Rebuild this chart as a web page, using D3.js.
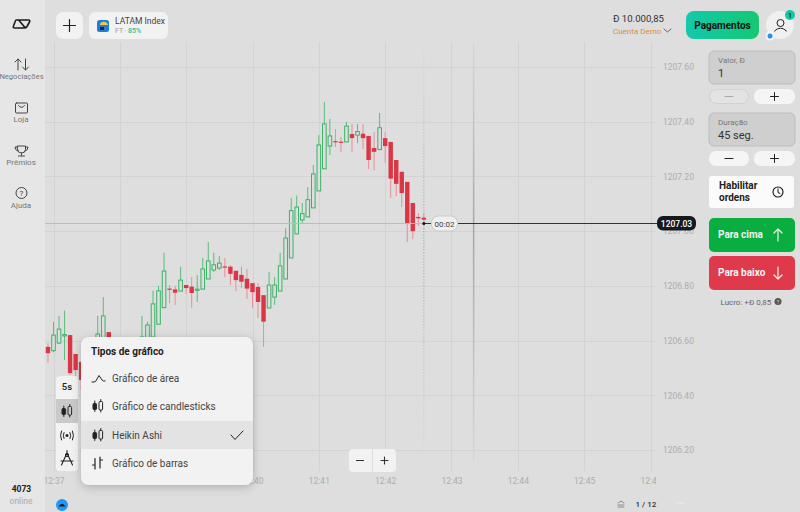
<!DOCTYPE html>
<html>
<head>
<meta charset="utf-8">
<script src="https://cdn.jsdelivr.net/npm/d3@7"></script>
<style>
    html, body { margin: 0; padding: 0; background: #dedede; overflow: hidden; }
    svg { display: block; font-family: Roboto, sans-serif; }
</style>
</head>
<body>
<svg id="chart" width="800" height="512"></svg>
<script>
// 5 second candles, first one closes out 12:36:55
const firstCandle = new Date(2024, 0, 1, 12, 36, 55);
const candleSeconds = 5;

const candleOpen = [1206.577,1206.563,1206.591,1206.617,1206.620,1206.551,1206.522,1206.485,1206.456,1206.547,
    1206.584,1206.631,1206.595,1206.529,1206.547,1206.580,1206.536,1206.558,1206.584,1206.613,
    1206.660,1206.720,1206.790,1206.787,1206.781,1206.803,1206.797,1206.785,1206.788,1206.825,
    1206.858,1206.865,1206.871,1206.870,1206.855,1206.840,1206.826,1206.810,1206.796,1206.766,
    1206.719,1206.759,1206.781,1206.825,1206.902,1206.990,1207.041,1207.052,1207.085,1207.147,
    1207.228,1207.311,1207.329,1207.327,1207.326,1207.355,1207.351,1207.356,1207.348,1207.304,
    1207.298,1207.340,1207.326,1207.260,1207.217,1207.180,1207.103,1207.052,1207.049];
const candleClose = [1206.554,1206.620,1206.642,1206.622,1206.481,1206.492,1206.456,1206.441,1206.536,1206.624,
    1206.690,1206.595,1206.558,1206.565,1206.584,1206.543,1206.587,1206.613,1206.657,1206.734,
    1206.782,1206.854,1206.787,1206.775,1206.821,1206.792,1206.774,1206.788,1206.862,1206.891,
    1206.877,1206.883,1206.868,1206.844,1206.821,1206.815,1206.790,1206.777,1206.741,1206.669,
    1206.803,1206.803,1206.873,1206.975,1207.075,1207.088,1207.064,1207.115,1207.209,1207.315,
    1207.392,1207.348,1207.326,1207.325,1207.384,1207.340,1207.364,1207.340,1207.260,1207.290,
    1207.378,1207.311,1207.192,1207.173,1207.139,1207.026,1207.000,1207.047,1207.042];
const candleHigh = [1206.591,1206.669,1206.690,1206.709,1206.620,1206.551,1206.525,1206.492,1206.584,1206.690,
    1206.759,1206.631,1206.606,1206.587,1206.602,1206.595,1206.602,1206.690,1206.669,1206.782,
    1206.800,1206.921,1206.803,1206.800,1206.870,1206.803,1206.832,1206.840,1206.902,1206.960,
    1206.921,1206.909,1206.902,1206.876,1206.855,1206.870,1206.862,1206.810,1206.810,1206.766,
    1206.851,1206.832,1206.921,1207.011,1207.121,1207.130,1207.103,1207.161,1207.242,1207.351,
    1207.472,1207.410,1207.373,1207.344,1207.399,1207.392,1207.392,1207.392,1207.348,1207.362,
    1207.432,1207.362,1207.326,1207.260,1207.217,1207.180,1207.103,1207.066,1207.066];
const candleLow = [1206.519,1206.558,1206.587,1206.529,1206.474,1206.470,1206.419,1206.412,1206.437,1206.529,
    1206.565,1206.565,1206.529,1206.511,1206.536,1206.522,1206.522,1206.547,1206.580,1206.602,
    1206.657,1206.719,1206.737,1206.730,1206.781,1206.770,1206.720,1206.741,1206.788,1206.825,
    1206.851,1206.858,1206.832,1206.803,1206.781,1206.792,1206.752,1206.720,1206.682,1206.577,
    1206.719,1206.730,1206.781,1206.825,1206.902,1206.990,1207.030,1207.052,1207.085,1207.147,
    1207.228,1207.278,1207.308,1207.289,1207.326,1207.289,1207.322,1207.300,1207.227,1207.221,
    1207.298,1207.250,1207.121,1207.128,1207.089,1206.960,1206.971,1207.019,1207.030];

const priceTicks = [1206.20,1206.40,1206.60,1206.80,1207.00,1207.20,1207.40,1207.60];
const timeTicks = [37,38,39,40,41,42,43,44,45,46].map(m => new Date(2024, 0, 1, 12, m, 0));
const currentPrice = 1207.03;
const currentTime = new Date(2024, 0, 1, 12, 42, 35);
const expiryTime = new Date(2024, 0, 1, 12, 42, 35 + 45);
const chartTypes = ["Gráfico de área", "Gráfico de candlesticks", "Heikin Ashi", "Gráfico de barras"];

const candles = candleOpen.map((o, i) => ({
    t: new Date(+firstCandle + i * candleSeconds * 1000),
    o: o, c: candleClose[i], h: candleHigh[i], l: candleLow[i]
}));

const svg = d3.select("#chart");
const x = d3.scaleTime().domain([timeTicks[0], timeTicks[9]]).range([53.5, 650.5]);
const y = d3.scaleLinear().domain([1206.2, 1207.6]).range([450, 67]);

const green = "#3ab366", red = "#dc3545";

svg.append("rect").attr("width", 800).attr("height", 512).attr("fill", "#dedede");

const defs = svg.append("defs");
defs.append("clipPath").attr("id", "plotClip").append("rect")
    .attr("x", 45).attr("y", 0).attr("width", 611).attr("height", 512);
const payGrad = defs.append("linearGradient").attr("id", "payGrad");
payGrad.append("stop").attr("offset", "0%").attr("stop-color", "#13c9ab");
payGrad.append("stop").attr("offset", "100%").attr("stop-color", "#14c873");
const fadeGrad = defs.append("linearGradient").attr("id", "fadeGrad")
    .attr("gradientUnits", "userSpaceOnUse").attr("x1", 0).attr("x2", 0).attr("y1", 42).attr("y2", 462);
fadeGrad.append("stop").attr("offset", "0%").attr("stop-color", "#d8d8d8");
fadeGrad.append("stop").attr("offset", "45%").attr("stop-color", "#a6a6a6");
fadeGrad.append("stop").attr("offset", "100%").attr("stop-color", "#d8d8d8");
const blur = defs.append("filter").attr("id", "shadow")
    .attr("x", "-20%").attr("y", "-20%").attr("width", "140%").attr("height", "140%");
blur.append("feDropShadow").attr("dx", 0).attr("dy", 2).attr("stdDeviation", 5)
    .attr("flood-color", "#000").attr("flood-opacity", 0.22);

// grid
const grid = svg.append("g").attr("stroke", "#d3d3d3").attr("stroke-width", 1);
grid.selectAll(".h").data(priceTicks).join("line")
    .attr("x1", 45).attr("x2", 655)
    .attr("y1", d => Math.round(y(d)) + 0.5).attr("y2", d => Math.round(y(d)) + 0.5);
grid.selectAll(".v").data(timeTicks).join("line")
    .attr("x1", d => Math.round(x(d)) + 0.5).attr("x2", d => Math.round(x(d)) + 0.5)
    .attr("y1", 42).attr("y2", 471);

// axes
const yAxis = svg.append("g").attr("transform", "translate(655,0)")
    .call(d3.axisRight(y).tickValues(priceTicks).tickSize(0).tickPadding(8).tickFormat(d3.format(".2f")));
yAxis.select(".domain").remove();
yAxis.selectAll("text").attr("fill", "#adadad").attr("font-size", 8.5).attr("font-family", "Roboto");

const xAxis = svg.append("g").attr("transform", "translate(0,476)").attr("clip-path", "url(#plotClip)")
    .call(d3.axisBottom(x).tickValues(timeTicks).tickSize(0).tickPadding(2).tickFormat(d3.timeFormat("%H:%M")));
xAxis.select(".domain").remove();
xAxis.selectAll("text").attr("fill", "#adadad").attr("font-size", 8.5).attr("font-family", "Roboto");

// now / expiry markers
svg.append("line").attr("x1", x(currentTime) + 0.01).attr("x2", x(currentTime)).attr("y1", 42).attr("y2", 462)
    .attr("stroke", "url(#fadeGrad)").attr("stroke-dasharray", "1.5,1.5");
svg.append("line").attr("x1", x(expiryTime) + 0.01).attr("x2", x(expiryTime)).attr("y1", 42).attr("y2", 462)
    .attr("stroke", "url(#fadeGrad)").attr("stroke-width", 1.5);

// candles
const candleG = svg.append("g");
candleG.selectAll(".wick").data(candles).join("line")
    .attr("x1", d => x(d.t)).attr("x2", d => x(d.t))
    .attr("y1", d => y(d.h)).attr("y2", d => y(d.l))
    .attr("stroke", d => d.c >= d.o ? "#5cbc7d" : "#e58f98").attr("stroke-width", 1);
candleG.selectAll(".body").data(candles).join("rect")
    .attr("x", d => x(d.t) - (d.c >= d.o ? 1.8 : 2.2))
    .attr("width", d => d.c >= d.o ? 3.6 : 4.4)
    .attr("y", d => y(Math.max(d.o, d.c)))
    .attr("height", d => Math.max(1.2, Math.abs(y(d.o) - y(d.c))))
    .attr("fill", d => d.c >= d.o ? "#dedede" : red)
    .attr("stroke", d => d.c >= d.o ? green : "none")
    .attr("stroke-width", 1);

// current price line
const py = Math.round(y(currentPrice)) + 0.5;
svg.append("line").attr("x1", 45).attr("x2", x(currentTime)).attr("y1", py).attr("y2", py)
    .attr("stroke", "#bcbcbc");
svg.append("line").attr("x1", x(currentTime)).attr("x2", 660).attr("y1", py).attr("y2", py)
    .attr("stroke", "#333");
svg.append("circle").attr("cx", x(currentTime)).attr("cy", py).attr("r", 1.5).attr("fill", "#111");
svg.append("rect").attr("x", 431.5).attr("y", 216).attr("width", 26).attr("height", 15).attr("rx", 7)
    .attr("fill", "#f0f0f0").attr("stroke", "#ccc");
label(444.5, 226.5, "00:02", 8, "#444").attr("text-anchor", "middle");
svg.append("rect").attr("x", 657).attr("y", 216).attr("width", 39).attr("height", 14.5).attr("rx", 6).attr("fill", "#16191c");
label(676.5, 226.5, currentPrice.toFixed(2), 8.5, "#fff", 500).attr("text-anchor", "middle");

function label(px, py, txt, size, color, weight) {
    return svg.append("text").attr("x", px).attr("y", py).text(txt)
        .attr("font-size", size).attr("fill", color).attr("font-weight", weight || 400);
}
function box(px, py, w, h, r, fill, stroke) {
    return svg.append("rect").attr("x", px).attr("y", py).attr("width", w).attr("height", h).attr("rx", r)
        .attr("fill", fill).attr("stroke", stroke || "none");
}
function icon(d, color, width) {
    return svg.append("path").attr("d", d).attr("fill", "none")
        .attr("stroke", color || "#333").attr("stroke-width", width || 1)
        .attr("stroke-linecap", "round").attr("stroke-linejoin", "round");
}
function candleIcon(cx, cy, fill) {
    icon(`M${cx-3.2} ${cy-5}V${cy+5.5}M${cx+2.8} ${cy-6.5}V${cy+6}`, "#222", 1);
    box(cx - 5, cy - 2.5, 3.6, 6, 1, "#222", "#222");
    box(cx + 1, cy - 4.5, 3.6, 8.5, 1, fill, "#222");
}

// left sidebar
box(0, 0, 45, 512, 0, "#e6e6e6");
icon("M16 20H28.5Q30.5 20 29.5 22L27 26.5Q26 28 24 28H15Q12.5 28 13.5 26L15 22Q15.5 20 16 20ZM19 20.5L25 27.5", "#1a1a1a", 1.6);
icon("M18 70V59M15 62L18 59L21 62M25.5 59V70M22.5 67L25.5 70L28.5 67", "#444", 1);
label(21.5, 79, "Negociações", 7.6, "#777").attr("text-anchor", "middle");
icon("M16.5 103H26.5Q27.5 103 27.5 104V112Q27.5 113 26.5 113H16.5Q15.5 113 15.5 112V104Q15.5 103 16.5 103ZM18.5 105.5Q21.5 109.5 24.5 105.5", "#444", 1);
label(21, 122, "Loja", 8, "#777").attr("text-anchor", "middle");
icon("M17.5 146H25.5V149.5Q25.5 153 21.5 153Q17.5 153 17.5 149.5ZM17.5 147H15Q15 150.5 18 151M25.5 147H28Q28 150.5 25 151M21.5 153V155.5M18.5 156H24.5", "#444", 1);
label(21, 165, "Prêmios", 8, "#777").attr("text-anchor", "middle");
svg.append("circle").attr("cx", 21.5).attr("cy", 193).attr("r", 5.5).attr("fill", "none").attr("stroke", "#444");
label(21.5, 196, "?", 8, "#444").attr("text-anchor", "middle");
label(21, 208, "Ajuda", 8, "#777").attr("text-anchor", "middle");
label(21.5, 492, "4073", 8.5, "#222", 700).attr("text-anchor", "middle");
label(21, 504, "online", 8.5, "#aaa").attr("text-anchor", "middle");

// top left tiles
box(56, 12, 27, 27, 7, "#f2f2f2");
icon("M69.5 19.5V31.5M63.5 25.5H75.5", "#222", 1.2);
box(89, 12, 79, 27, 6, "#f2f2f2");
box(97, 20, 12, 12, 2.5, "#1c7fd8");
svg.append("path").attr("d", "M100 25C100 22 103 21 105 22C107 22.5 108 24 108 25Z").attr("fill", "#f2c84b");
svg.append("rect").attr("x", 100).attr("y", 27).attr("width", 4).attr("height", 3).attr("fill", "#123");
label(115, 23.5, "LATAM Index", 8.5, "#444");
label(115, 32.5, "FT ·", 7, "#999");
label(128, 32.5, "85%", 7, "#2dbd8f", 500);

// balance
label(613, 22, "Ð 10.000,85", 9.6, "#333");
label(613, 34, "Cuenta Demo", 8, "#e08a3a");
icon("M664 29L667.5 32L671 29", "#555", 0.9);
box(686, 11, 73, 28, 8, "url(#payGrad)");
label(722.5, 28.5, "Pagamentos", 10, "#111", 700).attr("text-anchor", "middle");
svg.append("circle").attr("cx", 780).attr("cy", 25).attr("r", 14).attr("fill", "#f0f0f0");
svg.append("circle").attr("cx", 780.5).attr("cy", 23).attr("r", 3.5).attr("fill", "none").attr("stroke", "#222");
icon("M774.5 31Q780.5 25 786.5 31", "#222", 1);
svg.append("circle").attr("cx", 790).attr("cy", 15).attr("r", 5).attr("fill", "#14c9a0");
label(790, 17.5, "1", 7, "#123", 500).attr("text-anchor", "middle");
svg.append("circle").attr("cx", 770).attr("cy", 36).attr("r", 4.5).attr("fill", "#f4f4f4");
svg.append("circle").attr("cx", 770).attr("cy", 36).attr("r", 2.5).attr("fill", "#2a90e0");

// right panel
box(709, 51, 86, 33, 5, "#cfcfcf", "#bdbdbd");
label(718, 63, "Valor, Ð", 8, "#777");
label(718, 77, "1", 11, "#333");
box(709.5, 89.5, 39, 14, 7, "#e3e3e3", "#d2d2d2");
icon("M725 96.5H733", "#aaa", 1);
box(754, 89, 41, 15, 7, "#f5f5f5");
icon("M770.5 96.5H778.5M774.5 92.5V100.5", "#222", 1);
box(709, 113, 86, 33, 5, "#cfcfcf", "#bdbdbd");
label(718, 125, "Duração", 8, "#777");
label(718, 139, "45 seg.", 11, "#333");
box(709, 151, 40, 15, 7, "#f5f5f5");
icon("M725 158.5H733", "#222", 1);
box(754, 151, 41, 15, 7, "#f5f5f5");
icon("M770.5 158.5H778.5M774.5 154.5V162.5", "#222", 1);
box(709, 176, 85, 32, 3, "#fbfbfb");
label(719, 189, "Habilitar", 10, "#222", 700);
label(719, 201, "ordens", 10, "#222", 700);
svg.append("circle").attr("cx", 778).attr("cy", 192).attr("r", 5).attr("fill", "none").attr("stroke", "#111").attr("stroke-width", 1.1);
icon("M778 189V192.5L780 193.5", "#111", 1);
box(709, 218, 86, 34, 5, "#0aad3f");
label(718, 238, "Para cima", 10, "#f4f4f4", 700);
icon("M778 241V229M774 233L778 229L782 233", "#e8f5ec", 1.2);
box(709, 256, 86, 34, 5, "#df3a4b");
label(718, 276, "Para baixo", 10, "#f4f4f4", 700);
icon("M778 267V279M774 275L778 279L782 275", "#f8e8ea", 1.2);
label(720.5, 304.5, "Lucro: +Ð 0,85", 8, "#666");
svg.append("circle").attr("cx", 778).attr("cy", 301.5).attr("r", 3.5).attr("fill", "#555");
label(778, 304, "?", 6, "#ddd").attr("text-anchor", "middle");

// zoom buttons
box(349, 449, 47, 23, 4, "#f2f2f2");
icon("M372.5 449V472", "#dcdcdc", 1);
icon("M356.5 460.5H363.5", "#333", 1.1);
icon("M381 460.5H388M384.5 457V464", "#333", 1.1);

// chart tool column
box(56, 376, 22, 95, 4, "#f2f2f2");
box(56, 399, 22, 24, 0, "#c9c9c9");
label(67, 389.5, "5s", 9.5, "#222", 500).attr("text-anchor", "middle");
candleIcon(67, 411, "#c9c9c9");
svg.append("circle").attr("cx", 67).attr("cy", 435.5).attr("r", 1.5).attr("fill", "#222");
icon("M64 432.5Q62.5 435.5 64 438.5M61.5 431Q59.5 435.5 61.5 440M70 432.5Q71.5 435.5 70 438.5M72.5 431Q74.5 435.5 72.5 440", "#222", 1);
icon("M67 453L61.5 465M67 453L72.5 465M61 461H73M67 450.5V453", "#222", 1.1);
svg.append("circle").attr("cx", 67).attr("cy", 455).attr("r", 1.6).attr("fill", "none").attr("stroke", "#222");

// chart type popup
box(81, 337, 172, 148, 8, "#f2f2f2").attr("filter", "url(#shadow)");
svg.append("rect").attr("x", 81).attr("y", 421).attr("width", 172).attr("height", 28).attr("fill", "#e3e3e3");
label(91, 355, "Tipos de gráfico", 10, "#222", 700);
svg.selectAll(".typeLabel").data(chartTypes).join("text")
    .attr("x", 112).attr("y", (d, i) => [381.5, 410, 438.5, 467][i])
    .attr("font-size", 10).attr("fill", "#444").text(d => d);
icon("M92 382H94Q96 382 97 379L99 375.5L102 380Q103 381.5 105 381", "#222", 1);
candleIcon(98, 406, "#f2f2f2");
candleIcon(98, 435, "#e3e3e3");
icon("M95 458.5V469M95 465H92.5M100 457V468M100 460H102.5", "#222", 1.2);
icon("M231 435L235 439.5L243 431", "#222", 1);

// footer bits
svg.append("circle").attr("cx", 62).attr("cy", 505).attr("r", 6).attr("fill", "#2196f3");
svg.append("path").attr("d", "M58.5 506.5Q62 501 65.5 506.5Z").attr("fill", "#123");
icon("M618 503L621 501L624 503M618 505H624M618 507H624", "#777", 0.8);
label(635.5, 506.5, "1 / 12", 8, "#333", 500);
icon("M677 503H684", "#eee", 1);
</script>
</body>
</html>
